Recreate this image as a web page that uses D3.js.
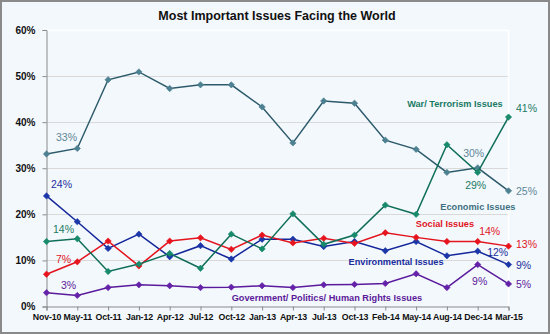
<!DOCTYPE html>
<html>
<head>
<meta charset="utf-8">
<script src="https://cdn.jsdelivr.net/npm/d3@7"></script>
<style>
  body { margin: 0; background: #ffffff; }
  svg { display: block; font-family: "Liberation Sans", Arial, sans-serif; }
</style>
</head>
<body>
<svg id="chart" width="550" height="334"></svg>
<script>
"use strict";

// categories
var months = ["Nov-10", "May-11", "Oct-11", "Jan-12", "Apr-12", "Jul-12", "Oct-12", "Jan-13",
  "Apr-13", "Jul-13", "Oct-13", "Feb-14", "May-14", "Aug-14", "Dec-14", "Mar-15"];

// series values (%)
var economic = [33.1, 34.3, 49.2, 50.9, 47.3, 48.1, 48.1, 43.3, 35.5, 44.6, 44.1, 36.1, 34.1, 29.1, 30.1, 25.1];
var war = [14.1, 14.7, 7.6, 9.2, 11.5, 8.3, 15.7, 12.5, 20.1, 13.5, 15.5, 22.0, 20.0, 35.1, 29.1, 41.1];
var social = [7.0, 9.7, 14.2, 8.8, 14.2, 14.9, 12.4, 15.5, 13.8, 14.8, 13.7, 16.0, 15.0, 14.1, 14.1, 13.1];
var environmental = [24.0, 18.4, 12.6, 15.7, 10.8, 13.2, 10.3, 14.6, 14.6, 13.0, 14.1, 12.1, 14.1, 11.0, 12.0, 9.1];
var government = [3.0, 2.4, 4.1, 4.7, 4.5, 4.1, 4.2, 4.5, 4.1, 4.7, 4.8, 5.0, 7.1, 4.1, 9.1, 4.9];

// y axis ticks
var yTicks = [0, 10, 20, 30, 40, 50, 60];

var series = [
  { name: "Economic Issues", values: economic, line: "#2c5a6a", marker: "#4d8090", text: "#3f7081", pct: "#5f8797" },
  { name: "Environmental Issues", values: environmental, line: "#14279a", marker: "#1a36a8", text: "#1a2e9c", pct: "#1a2e9c" },
  { name: "Social Issues", values: social, line: "#e3141d", marker: "#e8141d", text: "#e0151e", pct: "#e0151e" },
  { name: "War/ Terrorism Issues", values: war, line: "#0e6e58", marker: "#178a6c", text: "#1a7a63", pct: "#1a7a63" },
  { name: "Government/ Politics/ Human Rights Issues", values: government, line: "#5a1a9c", marker: "#6322a8", text: "#5b1a99", pct: "#5b1a99" }
];

// value labels: series index, point index, offset from point
var pointLabels = [
  { s: 0, i: 0, dx: 20, dy: -17 },
  { s: 0, i: 14, dx: -4, dy: -15 },
  { s: 0, i: 15, dx: 18, dy: 0 },
  { s: 1, i: 0, dx: 15, dy: -12 },
  { s: 1, i: 14, dx: 20, dy: 1 },
  { s: 1, i: 15, dx: 15, dy: 0 },
  { s: 2, i: 0, dx: 17, dy: -15 },
  { s: 2, i: 14, dx: 12, dy: -11 },
  { s: 2, i: 15, dx: 18, dy: -2 },
  { s: 3, i: 0, dx: 17, dy: -13 },
  { s: 3, i: 14, dx: -2, dy: 13 },
  { s: 3, i: 15, dx: 18, dy: -9 },
  { s: 4, i: 0, dx: 22, dy: -8 },
  { s: 4, i: 14, dx: 2, dy: 16 },
  { s: 4, i: 15, dx: 15, dy: 0 }
];

// series name labels: series index, anchored near a point
var nameLabels = [
  { s: 0, i: 13, dx: 31, dy: 35 },
  { s: 1, i: 12, dx: -20, dy: 20 },
  { s: 2, i: 13, dx: -2, dy: -18 },
  { s: 3, i: 13, dx: 8, dy: -41 },
  { s: 4, i: 8, dx: 34, dy: 10 }
];

var svg = d3.select("#chart");

svg.append("rect")
.attr("x", 1).attr("y", 1)
.attr("width", 548).attr("height", 332)
.attr("fill", "#f3f8fd")
.attr("stroke", "#8a8a8a")
.attr("stroke-width", 2);

var x = d3.scalePoint().domain(months).range([46.5, 508.5]);
var y = d3.scaleLinear().domain([0, 60]).range([306.5, 30]);

// plot frame + grid
var grid_g = svg.append("g");

grid_g.selectAll(".grid")
.data(yTicks.slice(1, -1))
.enter()
.append("line")
.attr("class", "grid")
.attr("x1", 46.5).attr("x2", 508.5)
.attr("y1", function(d){ return Math.round(y(d)) + 0.5; })
.attr("y2", function(d){ return Math.round(y(d)) + 0.5; })
.attr("stroke", "#d9d9d9")
.attr("stroke-width", 1);

grid_g.append("path")
.attr("d", "M46.5 30.5 L508.5 30.5 L508.5 306.5")
.attr("fill", "none")
.attr("stroke", "#ffffff")
.attr("stroke-width", 1.5);

// axes
var yAxis = d3.axisLeft(y).tickValues(yTicks).tickSize(4).tickPadding(7)
.tickFormat(function(d){ return d + "%"; });

var yAxis_g = svg.append("g")
.attr("transform", "translate(46.5,0)")
.call(yAxis);

var xAxis = d3.axisBottom(x).tickSize(4).tickPadding(3);

var xAxis_g = svg.append("g")
.attr("transform", "translate(0," + 306.5 + ")")
.call(xAxis);

[yAxis_g, xAxis_g].forEach(function(g){
  g.select(".domain").attr("stroke", "#8a8a8a");
  g.selectAll(".tick line").attr("stroke", "#8a8a8a");
  g.selectAll(".tick text")
  .attr("fill", "#111111")
  .attr("font-weight", "bold")
  .attr("font-family", "'Liberation Sans', Arial, sans-serif");
});
yAxis_g.selectAll(".tick text").attr("font-size", "10px");
xAxis_g.selectAll(".tick text")
.attr("font-size", "8.8px")
.attr("letter-spacing", "-0.15px");

// lines
var line = d3.line()
.x(function(d, i){ return x(months[i]); })
.y(function(d){ return y(d); });

var diamond = d3.symbol().type(d3.symbolSquare).size(20);

var series_g = svg.append("g")
.selectAll(".series")
.data(series)
.enter()
.append("g")
.attr("class", "series");

series_g
.append("path")
.attr("d", function(s){ return line(s.values); })
.attr("fill", "none")
.attr("stroke", function(s){ return s.line; })
.attr("stroke-width", 1.5);

series_g
.selectAll(".marker")
.data(function(s){ return s.values.map(function(v, i){ return { v: v, i: i, c: s.marker }; }); })
.enter()
.append("path")
.attr("class", "marker")
.attr("d", diamond)
.attr("transform", function(d){ return "translate(" + x(months[d.i]) + "," + y(d.v) + ") rotate(45)"; })
.attr("fill", function(d){ return d.c; })
.attr("stroke", function(d){ return d.c; })
.attr("stroke-width", 0.6);

// percent labels
svg.append("g")
.selectAll("text")
.data(pointLabels)
.enter()
.append("text")
.attr("x", function(d){ return x(months[d.i]) + d.dx; })
.attr("y", function(d){ return y(series[d.s].values[d.i]) + d.dy; })
.attr("text-anchor", "middle")
.attr("dominant-baseline", "central")
.attr("font-size", "10.5px")
.attr("fill", function(d){ return series[d.s].pct; })
.text(function(d){ return Math.round(series[d.s].values[d.i]) + "%"; });

// series names
svg.append("g")
.selectAll("text")
.data(nameLabels)
.enter()
.append("text")
.attr("x", function(d){ return x(months[d.i]) + d.dx; })
.attr("y", function(d){ return y(series[d.s].values[d.i]) + d.dy; })
.attr("text-anchor", "middle")
.attr("dominant-baseline", "central")
.attr("font-size", "9.2px")
.attr("font-weight", "bold")
.attr("fill", function(d){ return series[d.s].text; })
.text(function(d){ return series[d.s].name; });

// title
svg.append("text")
.attr("x", 277)
.attr("y", 16)
.attr("text-anchor", "middle")
.attr("dominant-baseline", "central")
.attr("font-size", "12.5px")
.attr("font-weight", "bold")
.attr("fill", "#111111")
.text("Most Important Issues Facing the World");
</script>
</body>
</html>
